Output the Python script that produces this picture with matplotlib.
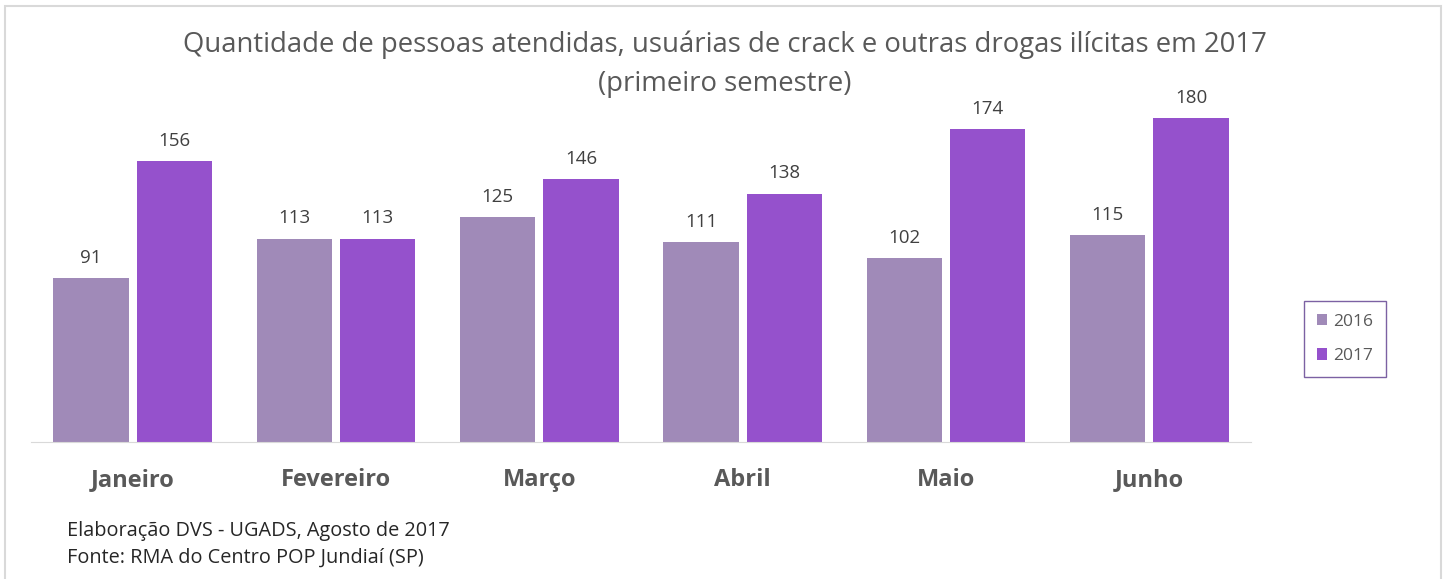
import numpy as np
import matplotlib.pyplot as plt
from matplotlib.patches import Rectangle

months = ["Janeiro", "Fevereiro", "Março", "Abril", "Maio", "Junho"]
v2016 = [91, 113, 125, 111, 102, 115]
v2017 = [156, 113, 146, 138, 174, 180]

c2016 = "#A08AB8"
c2017 = "#9551CC"

plt.rcParams['font.family'] = ['Open Sans', 'DejaVu Sans']

fig = plt.figure(figsize=(14.5, 5.79), dpi=100)
W, H = 1450, 579
# axes in pixel coords: left 31, right 1251, bottom baseline 442, top 100
ax = fig.add_axes([31 / W, 1 - 442 / H, (1251 - 31) / W, (442 - 100) / H])

x = np.arange(len(months))
bw = 0.37
gap = 0.02
b1 = ax.bar(x - bw / 2 - gap, v2016, bw, color=c2016, label="2016")
b2 = ax.bar(x + bw / 2 + gap, v2017, bw, color=c2017, label="2017")

for bars in (b1, b2):
    for b in bars:
        ax.annotate(str(int(b.get_height())), (b.get_x() + b.get_width() / 2, b.get_height()),
                    xytext=(0, 8), textcoords="offset points", ha="center", va="bottom",
                    fontsize=13.5, color="#404040")

ax.set_xlim(-0.5, 5.5)
ax.set_ylim(0, 190)
ax.set_yticks([])
ax.set_xticks(x)
ax.set_xticklabels(months, fontsize=17, fontweight="bold", color="#595959")
ax.tick_params(axis="x", length=0, pad=19)
for s in ["top", "right", "left"]:
    ax.spines[s].set_visible(False)
ax.spines["bottom"].set_color("#D9D9D9")

# title in two lines
fig.text(0.5, 1 - 45 / H, "Quantidade de pessoas atendidas, usuárias de crack e outras drogas ilícitas em 2017",
         ha="center", va="center", fontsize=19.8, color="#595959")
fig.text(0.5, 1 - 84 / H, "(primeiro semestre)",
         ha="center", va="center", fontsize=19.8, color="#595959")

leg = ax.legend(loc="center left", bbox_to_anchor=(1304 / W, 1 - 339 / H), bbox_transform=fig.transFigure,
                frameon=True, fancybox=False, fontsize=12.5, handlelength=0.6, handleheight=0.6,
                labelspacing=1.05, handletextpad=0.3, borderpad=0.75, borderaxespad=0,
                labelcolor="#595959")
leg.get_frame().set_edgecolor("#5B3A8C")
leg.get_frame().set_linewidth(1.0)

fig.text(67 / W, 1 - 531 / H, "Elaboração DVS - UGADS, Agosto de 2017", fontsize=14.3, color="#262626", va="center")
fig.text(67 / W, 1 - 558 / H, "Fonte: RMA do Centro POP Jundiaí (SP)", fontsize=14.3, color="#262626", va="center")

# outer border
fig.patches.append(Rectangle((5 / W, -0.01), (1441 - 5) / W, 1 - 6 / H + 0.01, transform=fig.transFigure,
                             fill=False, edgecolor="#D9D9D9", linewidth=1.5))

fig.savefig("out.png", dpi=100)
